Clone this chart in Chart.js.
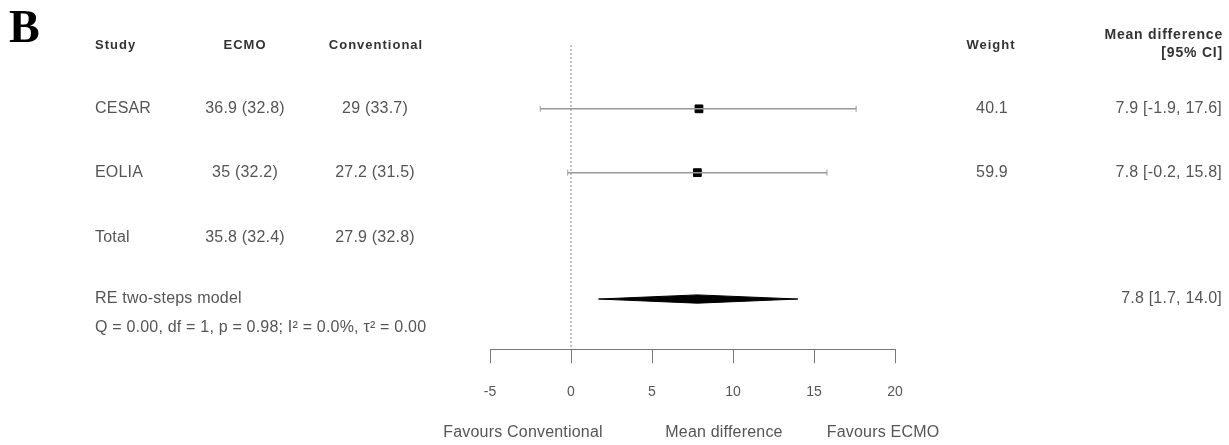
<!DOCTYPE html>
<html>
<head>
<meta charset="utf-8">
<script src="https://cdn.jsdelivr.net/npm/chart.js"></script>
<style>
  body { margin:0; background:#fff; }
  #forest { display:block; }
</style>
</head>
<body>
<canvas id="forest" width="1229" height="445"></canvas>
<script>
// study data
const studies = ['CESAR', 'EOLIA'];
const ecmo = ['36.9 (32.8)', '35 (32.2)'];
const conventional = ['29 (33.7)', '27.2 (31.5)'];
const weights = ['40.1', '59.9'];
const meanDiff = [7.9, 7.8];
const ciLow = [-1.9, -0.2];
const ciHigh = [17.6, 15.8];
const totalEcmo = '35.8 (32.4)';
const totalConv = '27.9 (32.8)';
const pooled = { est: 7.8, lo: 1.7, hi: 14.0 };
const hetText = 'Q = 0.00, df = 1, p = 0.98; I\u00b2 = 0.0%, \u03c4\u00b2 = 0.00';
const xTicks = [-5, 0, 5, 10, 15, 20];

// row positions on the (reversed) y scale
const rowY = [1, 2];
const totalRow = 3.02;
const pooledRow = 3.98;
const hetRow = 4.42;
const yMax = 4.766;

const fmt = v => v.toFixed(1);
const ciLabel = i => fmt(meanDiff[i]) + ' [' + fmt(ciLow[i]) + ', ' + fmt(ciHigh[i]) + ']';

let datasets = [];
// null line at 0
datasets.push({
    type: 'line',
    data: [{x: 0, y: 0}, {x: 0, y: yMax}],
    borderColor: '#888',
    borderWidth: 1,
    borderDash: [2, 2],
    pointRadius: 0
});
studies.forEach((s, i) => {
    datasets.push({
        type: 'line',
        data: [{x: ciLow[i], y: rowY[i]}, {x: ciHigh[i], y: rowY[i]}],
        borderColor: '#999',
        borderWidth: 1.5,
        pointStyle: 'line',
        rotation: 90,
        pointRadius: 3,
        pointBorderColor: '#999',
        pointBorderWidth: 1
    });
});
datasets.push({
    type: 'scatter',
    data: studies.map((s, i) => ({x: meanDiff[i], y: rowY[i]})),
    pointStyle: 'rect',
    pointRadius: 5.5,
    backgroundColor: '#000',
    borderColor: '#000'
});
// pooled diamond
const dh = 0.065;
datasets.push({
    type: 'line',
    data: [
        {x: pooled.lo, y: pooledRow},
        {x: pooled.est, y: pooledRow - dh},
        {x: pooled.hi, y: pooledRow},
        {x: pooled.est, y: pooledRow + dh},
        {x: pooled.lo, y: pooledRow}
    ],
    borderColor: '#000',
    borderWidth: 1,
    backgroundColor: '#000',
    fill: 'shape',
    pointRadius: 0,
    tension: 0
});

const textPlugin = {
    id: 'forestText',
    afterDraw(chart) {
        const ctx = chart.ctx;
        const y = v => chart.scales.y.getPixelForValue(v);
        ctx.save();
        ctx.textBaseline = 'middle';

        // panel letter
        ctx.fillStyle = '#000';
        ctx.font = 'bold 46px "Liberation Serif"';
        ctx.textAlign = 'left';
        ctx.fillText('B', 9, 30);

        // headers
        ctx.fillStyle = '#333';
        ctx.font = 'bold 13px "Liberation Sans"';
        ctx.letterSpacing = '1px';
        ctx.textAlign = 'left';
        ctx.fillText('Study', 95, y(0));
        ctx.textAlign = 'center';
        ctx.fillText('ECMO', 245, y(0));
        ctx.fillText('Conventional', 376, y(0));
        ctx.fillText('Weight', 991, y(0));
        ctx.font = 'bold 14px "Liberation Sans"';
        ctx.letterSpacing = '0.8px';
        ctx.textAlign = 'right';
        ctx.fillText('Mean difference', 1223, 35);
        ctx.fillText('[95% CI]', 1223, 53);

        // study rows
        ctx.fillStyle = '#555';
        ctx.font = '16px "Liberation Sans"';
        ctx.letterSpacing = '0.2px';
        studies.forEach((s, i) => {
            const py = y(rowY[i]);
            ctx.textAlign = 'left';
            ctx.fillText(s, 95, py);
            ctx.textAlign = 'center';
            ctx.fillText(ecmo[i], 245, py);
            ctx.fillText(conventional[i], 375, py);
            ctx.fillText(weights[i], 992, py);
            ctx.textAlign = 'right';
            ctx.fillText(ciLabel(i), 1222, py);
        });
        ctx.textAlign = 'left';
        ctx.fillText('Total', 95, y(totalRow));
        ctx.textAlign = 'center';
        ctx.fillText(totalEcmo, 245, y(totalRow));
        ctx.fillText(totalConv, 375, y(totalRow));

        ctx.textAlign = 'left';
        ctx.fillText('RE two-steps model', 95, y(pooledRow));
        ctx.fillText(hetText, 95, y(hetRow));
        ctx.textAlign = 'right';
        ctx.fillText(fmt(pooled.est) + ' [' + fmt(pooled.lo) + ', ' + fmt(pooled.hi) + ']', 1222, y(pooledRow));

        // axis captions
        ctx.textAlign = 'center';
        ctx.fillText('Favours Conventional', 523, 433);
        ctx.fillText('Mean difference', 724, 433);
        ctx.fillText('Favours ECMO', 883, 433);
        ctx.restore();
    }
};

new Chart(document.getElementById('forest').getContext('2d'), {
    type: 'scatter',
    data: { datasets: datasets },
    options: {
        responsive: false,
        animation: false,
        layout: { padding: { left: 490, right: 334, top: 45, bottom: 23 } },
        plugins: { legend: { display: false }, tooltip: { enabled: false } },
        scales: {
            x: {
                type: 'linear',
                min: xTicks[0],
                max: xTicks[xTicks.length - 1],
                afterBuildTicks: axis => { axis.ticks = xTicks.map(v => ({value: v})); },
                ticks: { color: '#555', font: { family: 'Liberation Sans', size: 14 }, padding: 21 },
                grid: { drawOnChartArea: false, drawTicks: true, tickLength: 14, color: '#777' },
                border: { display: true, color: '#777' }
            },
            y: {
                display: false,
                reverse: true,
                min: 0,
                max: yMax
            }
        }
    },
    plugins: [textPlugin]
});
</script>
</body>
</html>
